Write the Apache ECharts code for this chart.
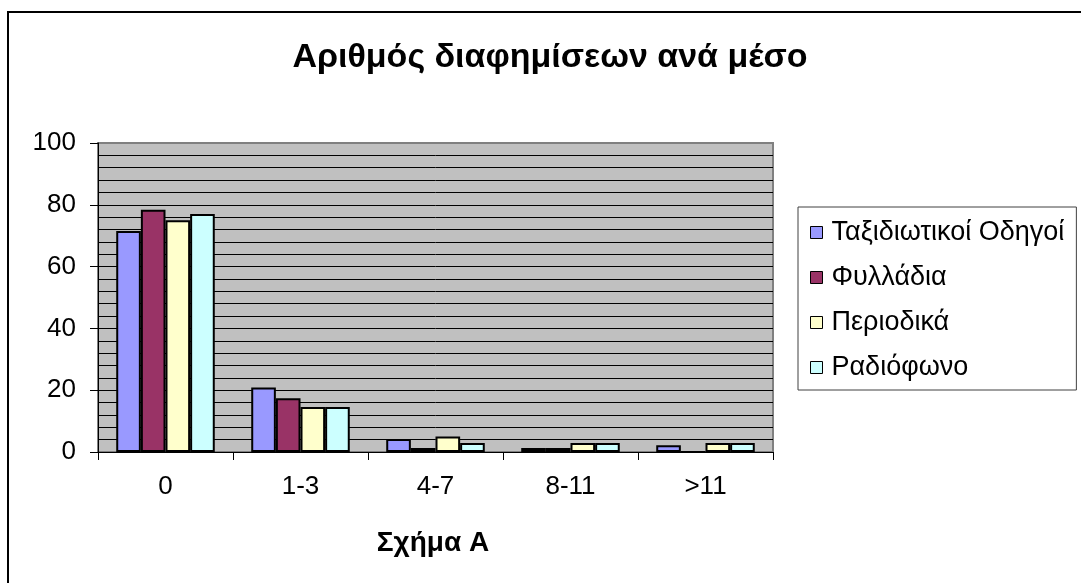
<!DOCTYPE html>
<html>
<head>
<meta charset="utf-8">
<script src="https://cdn.jsdelivr.net/npm/echarts@6/dist/echarts.min.js"></script>
<style>
  html, body { margin: 0; padding: 0; background: #fff; }
  #chart { width: 1081px; height: 583px; }
</style>
</head>
<body>
<div id="chart"></div>
<script>
// Number of adverts per medium, grouped by count bucket
const categories = ['0', '1-3', '4-7', '8-11', '>11'];
const seriesNames = ['Ταξιδιωτικοί Οδηγοί', 'Φυλλάδια', 'Περιοδικά', 'Ραδιόφωνο'];
const guides    = [71.5, 20.9, 4.2, 1.3, 2.2];
const leaflets  = [78.4, 17.4, 1.3, 1.3, 0];
const magazines = [75.0, 14.6, 5.0, 2.9, 2.9];
const radio     = [77.0, 14.6, 2.9, 2.9, 2.9];
const yMin = 0, yMax = 100, yStep = 20;

const colors = ['#9999FF', '#993366', '#FFFFCC', '#CCFFFF'];
const values = [guides, leaflets, magazines, radio];
const FONT = '"Liberation Sans", Arial, sans-serif';

const chart = echarts.init(document.getElementById('chart'), null, { renderer: 'canvas' });

chart.setOption({
  animation: false,
  backgroundColor: '#ffffff',
  color: colors,
  textStyle: { fontFamily: FONT, color: '#000' },
  graphic: [
    {
      type: 'rect', silent: true, z: 100,
      shape: { x: 8, y: 12, width: 1090, height: 600 },
      style: { fill: 'none', stroke: '#000', lineWidth: 2 }
    },
    {
      type: 'text', silent: true, z: 100,
      x: 550, y: 58,
      style: {
        text: 'Αριθμός διαφημίσεων ανά μέσο',
        font: 'bold 34px ' + FONT,
        fill: '#000', textAlign: 'center', textVerticalAlign: 'middle'
      }
    },
    {
      type: 'text', silent: true, z: 100,
      x: 433, y: 543,
      style: {
        text: 'Σχήμα Α',
        font: 'bold 28px ' + FONT,
        fill: '#000', textAlign: 'center', textVerticalAlign: 'middle'
      }
    }
  ],
  grid: {
    left: 98, top: 143, right: 1081 - 773, bottom: 583 - 452,
    show: true, backgroundColor: '#C0C0C0',
    borderColor: '#808080', borderWidth: 2
  },
  legend: {
    orient: 'vertical',
    left: 798, top: 207,
    padding: [12, 12, 9, 12],
    itemGap: 18,
    itemWidth: 12, itemHeight: 12,
    icon: 'rect',
    backgroundColor: '#fff',
    borderColor: '#404040', borderWidth: 1,
    itemStyle: { borderColor: '#000', borderWidth: 1 },
    textStyle: { fontSize: 27, fontFamily: FONT, color: '#000', padding: [0, 0, 0, 4] },
    data: seriesNames
  },
  xAxis: {
    type: 'category',
    data: categories,
    axisLine: { show: true, lineStyle: { color: '#000', width: 1 } },
    axisTick: { show: true, length: 8, lineStyle: { color: '#000' } },
    axisLabel: { fontSize: 26, color: '#000', margin: 22, fontFamily: FONT },
    splitLine: { show: false }
  },
  yAxis: {
    type: 'value',
    min: yMin, max: yMax, interval: yStep,
    axisLine: { show: true, lineStyle: { color: '#000', width: 1 } },
    axisTick: { show: true, length: 8, lineStyle: { color: '#000' } },
    axisLabel: { fontSize: 26, color: '#000', margin: 22, fontFamily: FONT },
    splitLine: { show: true, showMaxLine: false, lineStyle: { color: '#000', width: 1 } },
    minorTick: { show: false, splitNumber: 5 },
    minorSplitLine: { show: true, lineStyle: { color: '#000', width: 1 } }
  },
  series: seriesNames.map((name, i) => ({
    name: name,
    type: 'bar',
    data: values[i],
    barGap: '0%',
    barCategoryGap: '27%',
    itemStyle: { color: colors[i], borderColor: '#000', borderWidth: 2 }
  }))
});
</script>
</body>
</html>
